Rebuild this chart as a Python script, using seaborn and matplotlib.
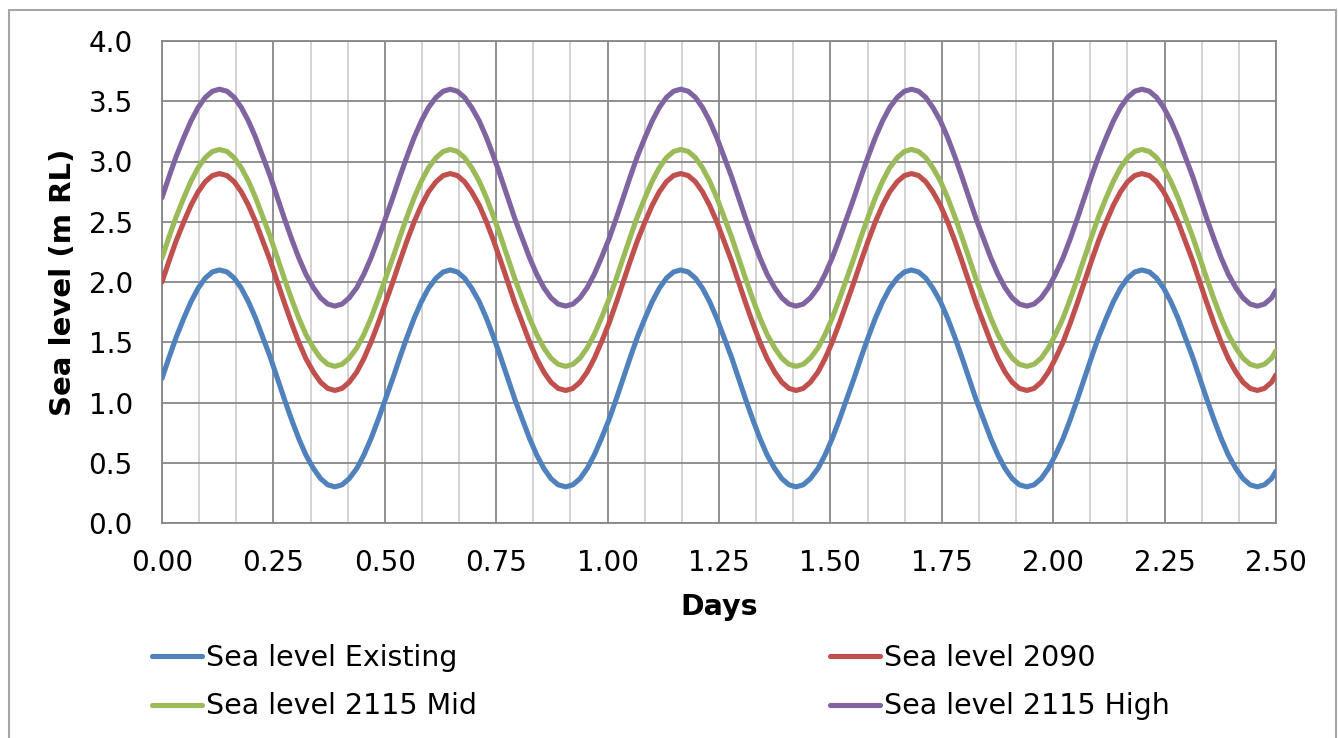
import pandas as pd
import matplotlib
matplotlib.use('Agg')
import matplotlib.pyplot as plt
from matplotlib.patches import Rectangle
from matplotlib.ticker import MultipleLocator, FormatStrFormatter
import seaborn as sns

# values (16 samples per half tide cycle)
days = [
    0.000, 0.016, 0.032, 0.049, 0.065, 0.081, 0.097, 0.113, 0.129, 0.146, 0.162, 0.178, 0.194, 0.210, 0.226, 0.243,
    0.259, 0.275, 0.291, 0.307, 0.323, 0.340, 0.356, 0.372, 0.388, 0.404, 0.420, 0.437, 0.453, 0.469, 0.485, 0.501,
    0.518, 0.534, 0.550, 0.566, 0.582, 0.598, 0.615, 0.631, 0.647, 0.663, 0.679, 0.695, 0.712, 0.728, 0.744, 0.760,
    0.776, 0.792, 0.809, 0.825, 0.841, 0.857, 0.873, 0.889, 0.906, 0.922, 0.938, 0.954, 0.970, 0.986, 1.003, 1.019,
    1.035, 1.051, 1.067, 1.084, 1.100, 1.116, 1.132, 1.148, 1.164, 1.181, 1.197, 1.213, 1.229, 1.245, 1.261, 1.278,
    1.294, 1.310, 1.326, 1.342, 1.358, 1.375, 1.391, 1.407, 1.423, 1.439, 1.455, 1.472, 1.488, 1.504, 1.520, 1.536,
    1.553, 1.569, 1.585, 1.601, 1.617, 1.633, 1.650, 1.666, 1.682, 1.698, 1.714, 1.730, 1.747, 1.763, 1.779, 1.795,
    1.811, 1.827, 1.844, 1.860, 1.876, 1.892, 1.908, 1.924, 1.941, 1.957, 1.973, 1.989, 2.005, 2.022, 2.038, 2.054,
    2.070, 2.086, 2.102, 2.119, 2.135, 2.151, 2.167, 2.183, 2.199, 2.216, 2.232, 2.248, 2.264, 2.280, 2.296, 2.313,
    2.329, 2.345, 2.361, 2.377, 2.393, 2.410, 2.426, 2.442, 2.458, 2.474, 2.490, 2.500]

sea_existing = [
    1.200, 1.376, 1.544, 1.700, 1.836, 1.948, 2.032, 2.083, 2.100, 2.083, 2.032, 1.948, 1.836, 1.700, 1.544, 1.376,
    1.200, 1.024, 0.856, 0.700, 0.564, 0.452, 0.368, 0.317, 0.300, 0.317, 0.368, 0.452, 0.564, 0.700, 0.856, 1.024,
    1.200, 1.376, 1.544, 1.700, 1.836, 1.948, 2.032, 2.083, 2.100, 2.083, 2.032, 1.948, 1.836, 1.700, 1.544, 1.376,
    1.200, 1.024, 0.856, 0.700, 0.564, 0.452, 0.368, 0.317, 0.300, 0.317, 0.368, 0.452, 0.564, 0.700, 0.856, 1.024,
    1.200, 1.376, 1.544, 1.700, 1.836, 1.948, 2.032, 2.083, 2.100, 2.083, 2.032, 1.948, 1.836, 1.700, 1.544, 1.376,
    1.200, 1.024, 0.856, 0.700, 0.564, 0.452, 0.368, 0.317, 0.300, 0.317, 0.368, 0.452, 0.564, 0.700, 0.856, 1.024,
    1.200, 1.376, 1.544, 1.700, 1.836, 1.948, 2.032, 2.083, 2.100, 2.083, 2.032, 1.948, 1.836, 1.700, 1.544, 1.376,
    1.200, 1.024, 0.856, 0.700, 0.564, 0.452, 0.368, 0.317, 0.300, 0.317, 0.368, 0.452, 0.564, 0.700, 0.856, 1.024,
    1.200, 1.376, 1.544, 1.700, 1.836, 1.948, 2.032, 2.083, 2.100, 2.083, 2.032, 1.948, 1.836, 1.700, 1.544, 1.376,
    1.200, 1.024, 0.856, 0.700, 0.564, 0.452, 0.368, 0.317, 0.300, 0.317, 0.368, 0.430]

sea_2090 = [
    2.000, 2.176, 2.344, 2.500, 2.636, 2.748, 2.832, 2.883, 2.900, 2.883, 2.832, 2.748, 2.636, 2.500, 2.344, 2.176,
    2.000, 1.824, 1.656, 1.500, 1.364, 1.252, 1.168, 1.117, 1.100, 1.117, 1.168, 1.252, 1.364, 1.500, 1.656, 1.824,
    2.000, 2.176, 2.344, 2.500, 2.636, 2.748, 2.832, 2.883, 2.900, 2.883, 2.832, 2.748, 2.636, 2.500, 2.344, 2.176,
    2.000, 1.824, 1.656, 1.500, 1.364, 1.252, 1.168, 1.117, 1.100, 1.117, 1.168, 1.252, 1.364, 1.500, 1.656, 1.824,
    2.000, 2.176, 2.344, 2.500, 2.636, 2.748, 2.832, 2.883, 2.900, 2.883, 2.832, 2.748, 2.636, 2.500, 2.344, 2.176,
    2.000, 1.824, 1.656, 1.500, 1.364, 1.252, 1.168, 1.117, 1.100, 1.117, 1.168, 1.252, 1.364, 1.500, 1.656, 1.824,
    2.000, 2.176, 2.344, 2.500, 2.636, 2.748, 2.832, 2.883, 2.900, 2.883, 2.832, 2.748, 2.636, 2.500, 2.344, 2.176,
    2.000, 1.824, 1.656, 1.500, 1.364, 1.252, 1.168, 1.117, 1.100, 1.117, 1.168, 1.252, 1.364, 1.500, 1.656, 1.824,
    2.000, 2.176, 2.344, 2.500, 2.636, 2.748, 2.832, 2.883, 2.900, 2.883, 2.832, 2.748, 2.636, 2.500, 2.344, 2.176,
    2.000, 1.824, 1.656, 1.500, 1.364, 1.252, 1.168, 1.117, 1.100, 1.117, 1.168, 1.230]

sea_2115_mid = [
    2.200, 2.376, 2.544, 2.700, 2.836, 2.948, 3.032, 3.083, 3.100, 3.083, 3.032, 2.948, 2.836, 2.700, 2.544, 2.376,
    2.200, 2.024, 1.856, 1.700, 1.564, 1.452, 1.368, 1.317, 1.300, 1.317, 1.368, 1.452, 1.564, 1.700, 1.856, 2.024,
    2.200, 2.376, 2.544, 2.700, 2.836, 2.948, 3.032, 3.083, 3.100, 3.083, 3.032, 2.948, 2.836, 2.700, 2.544, 2.376,
    2.200, 2.024, 1.856, 1.700, 1.564, 1.452, 1.368, 1.317, 1.300, 1.317, 1.368, 1.452, 1.564, 1.700, 1.856, 2.024,
    2.200, 2.376, 2.544, 2.700, 2.836, 2.948, 3.032, 3.083, 3.100, 3.083, 3.032, 2.948, 2.836, 2.700, 2.544, 2.376,
    2.200, 2.024, 1.856, 1.700, 1.564, 1.452, 1.368, 1.317, 1.300, 1.317, 1.368, 1.452, 1.564, 1.700, 1.856, 2.024,
    2.200, 2.376, 2.544, 2.700, 2.836, 2.948, 3.032, 3.083, 3.100, 3.083, 3.032, 2.948, 2.836, 2.700, 2.544, 2.376,
    2.200, 2.024, 1.856, 1.700, 1.564, 1.452, 1.368, 1.317, 1.300, 1.317, 1.368, 1.452, 1.564, 1.700, 1.856, 2.024,
    2.200, 2.376, 2.544, 2.700, 2.836, 2.948, 3.032, 3.083, 3.100, 3.083, 3.032, 2.948, 2.836, 2.700, 2.544, 2.376,
    2.200, 2.024, 1.856, 1.700, 1.564, 1.452, 1.368, 1.317, 1.300, 1.317, 1.368, 1.430]

sea_2115_high = [
    2.700, 2.876, 3.044, 3.200, 3.336, 3.448, 3.532, 3.583, 3.600, 3.583, 3.532, 3.448, 3.336, 3.200, 3.044, 2.876,
    2.700, 2.524, 2.356, 2.200, 2.064, 1.952, 1.868, 1.817, 1.800, 1.817, 1.868, 1.952, 2.064, 2.200, 2.356, 2.524,
    2.700, 2.876, 3.044, 3.200, 3.336, 3.448, 3.532, 3.583, 3.600, 3.583, 3.532, 3.448, 3.336, 3.200, 3.044, 2.876,
    2.700, 2.524, 2.356, 2.200, 2.064, 1.952, 1.868, 1.817, 1.800, 1.817, 1.868, 1.952, 2.064, 2.200, 2.356, 2.524,
    2.700, 2.876, 3.044, 3.200, 3.336, 3.448, 3.532, 3.583, 3.600, 3.583, 3.532, 3.448, 3.336, 3.200, 3.044, 2.876,
    2.700, 2.524, 2.356, 2.200, 2.064, 1.952, 1.868, 1.817, 1.800, 1.817, 1.868, 1.952, 2.064, 2.200, 2.356, 2.524,
    2.700, 2.876, 3.044, 3.200, 3.336, 3.448, 3.532, 3.583, 3.600, 3.583, 3.532, 3.448, 3.336, 3.200, 3.044, 2.876,
    2.700, 2.524, 2.356, 2.200, 2.064, 1.952, 1.868, 1.817, 1.800, 1.817, 1.868, 1.952, 2.064, 2.200, 2.356, 2.524,
    2.700, 2.876, 3.044, 3.200, 3.336, 3.448, 3.532, 3.583, 3.600, 3.583, 3.532, 3.448, 3.336, 3.200, 3.044, 2.876,
    2.700, 2.524, 2.356, 2.200, 2.064, 1.952, 1.868, 1.817, 1.800, 1.817, 1.868, 1.930]

series_names = ['Sea level Existing', 'Sea level 2090', 'Sea level 2115 Mid', 'Sea level 2115 High']
series_colors = ['#4F81BD', '#C0504D', '#9BBB59', '#8064A2']

# long table for seaborn
frames = []
for name, vals in zip(series_names, [sea_existing, sea_2090, sea_2115_mid, sea_2115_high]):
    frames.append(pd.DataFrame({'Days': days, 'Sea level': vals, 'Series': name}))
df = pd.concat(frames, ignore_index=True)

sns.set_style('white')
plt.rcParams['font.family'] = ['DejaVu Sans']
plt.rcParams['text.color'] = 'black'
plt.rcParams['axes.labelcolor'] = 'black'

fig = plt.figure(figsize=(13.38, 7.38), dpi=100)
ax = fig.add_axes([162 / 1338, 1 - 523 / 738, (1276 - 162) / 1338, (523 - 41) / 738])

sns.lineplot(data=df, x='Days', y='Sea level', hue='Series', hue_order=series_names,
             palette=series_colors, linewidth=3.7, sort=False, ax=ax, zorder=3)

ax.set_xlim(0, 2.5)
ax.set_ylim(0, 4.0)
ax.xaxis.set_major_locator(MultipleLocator(0.25))
ax.xaxis.set_minor_locator(MultipleLocator(0.25 / 3))
ax.yaxis.set_major_locator(MultipleLocator(0.5))
ax.xaxis.set_major_formatter(FormatStrFormatter('%.2f'))
ax.yaxis.set_major_formatter(FormatStrFormatter('%.1f'))

ax.grid(which='major', color='#878787', linewidth=1.3)
ax.grid(which='minor', axis='x', color='#C8C8C8', linewidth=1.1)
ax.set_axisbelow(True)
for sp in ax.spines.values():
    sp.set_color('#878787')
    sp.set_linewidth(1.3)

ax.tick_params(axis='both', which='both', length=0, labelsize=20, colors='black')
ax.tick_params(axis='y', pad=21)
ax.tick_params(axis='x', pad=19)

ax.set_xlabel('Days', fontsize=20.5, fontweight='bold', labelpad=11)
ax.set_ylabel('Sea level (m RL)', fontsize=21, fontweight='bold', labelpad=8)

# legend filled row by row: Existing, 2090 / 2115 Mid, 2115 High
handles, labels = ax.get_legend_handles_labels()
order = [0, 2, 1, 3]
ax.legend([handles[i] for i in order], [labels[i] for i in order], ncol=2, frameon=False,
          fontsize=20.5, loc='upper left', bbox_to_anchor=(152 / 1338, 1 - 644 / 738),
          bbox_transform=fig.transFigure, handlelength=1.75, handletextpad=0.15,
          columnspacing=12.4, labelspacing=0.72, borderaxespad=0, borderpad=0)

# chart frame around everything
fig.add_artist(Rectangle((9 / 1338, -0.1), (1336 - 9) / 1338, 1.1 - 10 / 738,
                         transform=fig.transFigure, fill=False,
                         edgecolor='#A6A6A6', linewidth=1.5))

fig.savefig('out.png', dpi=100)
